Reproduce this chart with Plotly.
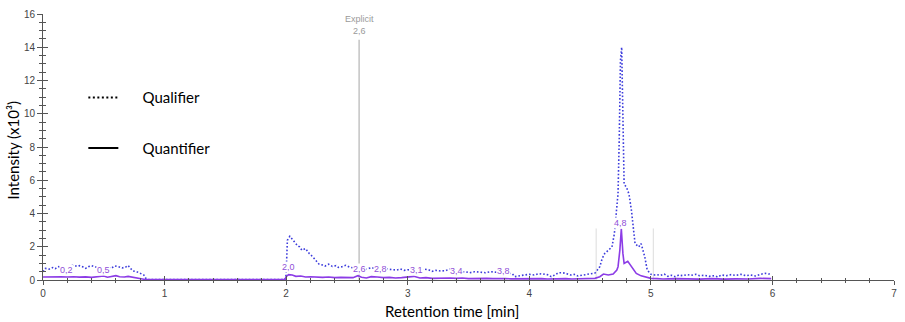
import plotly.graph_objects as go

# ---------------- data ----------------
qual_t = [0.00,0.02,0.05,0.08,0.10,0.13,0.16,0.20,0.23,0.25,0.28,0.30,0.33,0.35,0.38,0.40,0.43,0.46,0.50,0.53,
          0.56,0.59,0.62,0.65,0.68,0.70,0.72,0.74,0.77,0.80,0.83,0.85,0.87,1.00,1.50,1.99,
          2.00,2.01,2.03,2.05,2.07,2.09,2.11,2.13,2.16,2.19,2.22,2.24,2.27,2.30,2.32,2.35,2.38,2.41,2.43,2.46,
          2.49,2.52,2.55,2.57,2.60,2.63,2.66,2.70,2.73,2.76,2.79,2.82,2.85,2.88,2.91,2.94,2.97,3.00,3.03,3.06,
          3.10,3.13,3.17,3.20,3.23,3.27,3.31,3.34,3.36,3.39,3.43,3.47,3.51,3.55,3.59,3.64,3.68,3.72,3.76,3.80,
          3.84,3.86,3.88,3.91,3.94,3.96,4.00,4.04,4.08,4.11,4.13,4.16,4.18,4.21,4.24,4.27,4.30,4.34,4.37,4.40,
          4.43,4.46,4.49,4.51,4.54,4.56,4.58,4.60,4.62,4.64,4.66,4.68,4.70,4.72,4.73,4.74,4.75,4.76,4.77,4.78,
          4.80,4.82,4.84,4.85,4.87,4.90,4.92,4.95,4.97,5.00,5.02,5.05,5.08,5.11,5.14,5.17,5.20,5.23,5.26,5.30,
          5.33,5.37,5.40,5.44,5.48,5.52,5.55,5.58,5.62,5.66,5.70,5.74,5.78,5.82,5.86,5.90,5.94,5.97,5.99]
qual_v = [0.50,0.70,0.65,0.75,0.68,0.80,0.76,0.72,0.85,0.90,0.82,0.86,0.78,0.70,0.82,0.86,0.78,0.84,0.74,0.80,
          0.70,0.85,0.80,0.72,0.78,0.88,0.70,0.55,0.50,0.40,0.30,0.05,0.02,0.02,0.02,0.02,
          0.30,2.39,2.63,2.45,2.29,2.10,1.99,1.79,1.89,1.59,1.39,1.19,0.96,0.90,0.84,0.95,0.82,0.86,0.76,0.80,
          0.88,0.78,0.72,0.70,0.68,0.72,0.66,0.74,0.70,0.73,0.66,0.70,0.64,0.62,0.60,0.66,0.58,0.62,0.60,0.55,
          0.62,0.66,0.62,0.52,0.58,0.54,0.56,0.64,0.70,0.55,0.48,0.50,0.44,0.50,0.46,0.44,0.50,0.48,0.44,0.42,
          0.40,0.38,0.20,0.26,0.28,0.30,0.34,0.30,0.38,0.34,0.36,0.30,0.20,0.30,0.44,0.44,0.40,0.30,0.34,0.24,
          0.30,0.32,0.36,0.40,0.42,0.60,0.80,1.30,1.59,1.72,1.85,1.99,2.79,4.20,5.20,8.50,13.2,14.0,10.5,5.77,
          5.57,5.17,4.20,3.58,2.19,1.99,2.19,1.39,0.60,0.35,0.30,0.32,0.28,0.36,0.22,0.28,0.20,0.30,0.26,0.32,
          0.28,0.34,0.26,0.28,0.22,0.26,0.18,0.30,0.26,0.32,0.28,0.34,0.26,0.30,0.24,0.34,0.40,0.36,0.40]

quant_t = [0.00,0.05,0.10,0.15,0.20,0.25,0.30,0.35,0.40,0.45,0.50,0.53,0.57,0.60,0.63,0.67,0.70,0.74,0.78,0.82,
           0.85,1.00,1.50,1.99,2.00,2.02,2.05,2.08,2.12,2.16,2.20,2.25,2.30,2.35,2.40,2.45,2.50,2.55,2.59,2.62,
           2.66,2.70,2.75,2.80,2.85,2.90,2.95,3.00,3.05,3.10,3.15,3.20,3.25,3.30,3.35,3.40,3.45,3.50,3.55,3.60,
           3.65,3.70,3.75,3.80,3.85,3.90,3.95,4.00,4.05,4.10,4.15,4.20,4.25,4.30,4.35,4.40,4.45,4.50,4.54,4.58,
           4.61,4.65,4.69,4.72,4.73,4.745,4.757,4.77,4.78,4.81,4.84,4.88,4.92,4.95,5.00,5.05,5.10,5.20,5.30,5.40,
           5.50,5.60,5.70,5.80,5.90,5.99]
quant_v = [0.18,0.20,0.19,0.20,0.18,0.20,0.17,0.19,0.16,0.20,0.24,0.17,0.22,0.26,0.20,0.18,0.22,0.16,0.12,0.08,
           0.02,0.02,0.02,0.02,0.20,0.32,0.30,0.22,0.24,0.18,0.20,0.16,0.16,0.18,0.14,0.16,0.14,0.14,0.26,0.16,
           0.12,0.20,0.18,0.14,0.16,0.12,0.14,0.16,0.22,0.12,0.14,0.10,0.12,0.10,0.12,0.10,0.12,0.08,0.10,0.08,
           0.10,0.08,0.10,0.08,0.07,0.08,0.06,0.08,0.07,0.08,0.06,0.08,0.07,0.08,0.06,0.08,0.07,0.08,0.10,0.20,
           0.36,0.30,0.36,0.60,0.80,1.80,3.08,1.60,1.00,1.13,0.80,0.40,0.25,0.20,0.10,0.08,0.06,0.08,0.06,0.05,
           0.08,0.05,0.07,0.06,0.10,0.08]

peak_labels = ["0,2","0,5","2,0","2,6","2,8","3,1","3,4","3,8","4,8"]
peak_label_t = [0.19,0.50,2.02,2.60,2.78,3.07,3.40,3.79,4.75]
peak_label_y = [0.62,0.62,0.80,0.66,0.66,0.60,0.54,0.54,3.45]

legend_names = ["Qualifier", "Quantifier"]

explicit_t = 2.6
explicit_top = 14.45
integration_bounds = [4.55, 5.02]
integration_top = 3.1

QUAL_COLOR = "#3c3cdc"
QUANT_COLOR = "#8c3ce6"
LABEL_COLOR = "#9050d8"
AXIS_COLOR = "#555555"

fig = go.Figure()

# explicit marker line
fig.add_trace(go.Scatter(x=[explicit_t, explicit_t], y=[0, explicit_top], mode="lines",
                         line=dict(color="#b4b4b4", width=1.2), showlegend=False, hoverinfo="skip"))
# integration bounds
for b in integration_bounds:
    fig.add_trace(go.Scatter(x=[b, b], y=[0, integration_top], mode="lines",
                             line=dict(color="#dcdcdc", width=1), showlegend=False, hoverinfo="skip"))

fig.add_trace(go.Scatter(x=qual_t, y=qual_v, mode="lines",
                         line=dict(color=QUAL_COLOR, width=1.6, dash="1.6px,2px"), showlegend=False))
fig.add_trace(go.Scatter(x=quant_t, y=quant_v, mode="lines",
                         line=dict(color=QUANT_COLOR, width=1.6), showlegend=False))

# legend entries (non-breaking spaces widen the gap between sample and text)
pad = "\u00a0" * 5
fig.add_trace(go.Scatter(x=[None], y=[None], mode="lines", name=pad + legend_names[0], legendgroup="a",
                         line=dict(color="black", width=2, dash="2px,2.5px")))
fig.add_trace(go.Scatter(x=[None], y=[None], mode="lines", name=pad + legend_names[1], legendgroup="b",
                         line=dict(color="black", width=2)))

# overlay axes for crossing ticks
fig.add_trace(go.Scatter(x=[None], y=[None], xaxis="x2", yaxis="y", showlegend=False))
fig.add_trace(go.Scatter(x=[None], y=[None], xaxis="x", yaxis="y2", showlegend=False))

for lab, t, y in zip(peak_labels, peak_label_t, peak_label_y):
    fig.add_annotation(x=t, y=y, text=lab, showarrow=False, yanchor="middle",
                       bgcolor="white", borderpad=0,
                       font=dict(family="Liberation Sans", size=9, color=LABEL_COLOR))

fig.add_annotation(x=explicit_t, y=explicit_top, text="Explicit<br>2,6", showarrow=False,
                   yanchor="bottom", yshift=2,
                   font=dict(family="Liberation Sans", size=9, color="#9a9a9a"))

# axis titles
fig.add_annotation(xref="paper", yref="paper", x=0.481, y=0, yshift=-31, yanchor="middle",
                   text="Retention time [min]", showarrow=False,
                   font=dict(family="Lato", size=15, color="black"))
fig.add_annotation(xref="paper", yref="paper", x=-0.0357, y=0.489, textangle=-90,
                   xanchor="center", yanchor="middle",
                   text="Intensity (x10³)", showarrow=False,
                   font=dict(family="Lato", size=15, color="black"))

tickfont = dict(family="Liberation Sans", size=10, color="#444444")

fig.update_layout(
    width=905, height=322,
    margin=dict(l=43, r=8, t=12, b=42),
    paper_bgcolor="white", plot_bgcolor="white",
    showlegend=True,
    legend=dict(x=0.0474, y=0.7475, xanchor="left", yanchor="top", tracegroupgap=28,
                itemwidth=30, bgcolor="rgba(0,0,0,0)",
                font=dict(family="Lato", size=15, color="black")),
    xaxis=dict(range=[0, 7], dtick=1, showgrid=False, zeroline=False, showline=True,
               linecolor=AXIS_COLOR, linewidth=1, ticks="outside", ticklen=4, tickcolor=AXIS_COLOR,
               minor=dict(ticks="outside", dtick=0.2, ticklen=2, tickcolor=AXIS_COLOR),
               tickfont=tickfont),
    xaxis2=dict(range=[0, 7], matches="x", overlaying="x", anchor="y", side="bottom",
                dtick=1, showgrid=False, zeroline=False, showline=False, showticklabels=False,
                ticks="inside", ticklen=4, tickcolor=AXIS_COLOR,
                minor=dict(ticks="inside", dtick=0.2, ticklen=2, tickcolor=AXIS_COLOR)),
    yaxis=dict(range=[0, 16], dtick=2, showgrid=False, zeroline=False, showline=True,
               linecolor=AXIS_COLOR, linewidth=1, ticks="outside", ticklen=5, tickcolor=AXIS_COLOR,
               minor=dict(ticks="outside", dtick=0.5, ticklen=3, tickcolor=AXIS_COLOR),
               tickfont=tickfont),
    yaxis2=dict(range=[0, 16], matches="y", overlaying="y", anchor="x", side="left",
                dtick=2, showgrid=False, zeroline=False, showline=False, showticklabels=False,
                ticks="inside", ticklen=5, tickcolor=AXIS_COLOR,
                minor=dict(ticks="inside", dtick=0.5, ticklen=3, tickcolor=AXIS_COLOR)),
)

fig.write_html("out.html")
